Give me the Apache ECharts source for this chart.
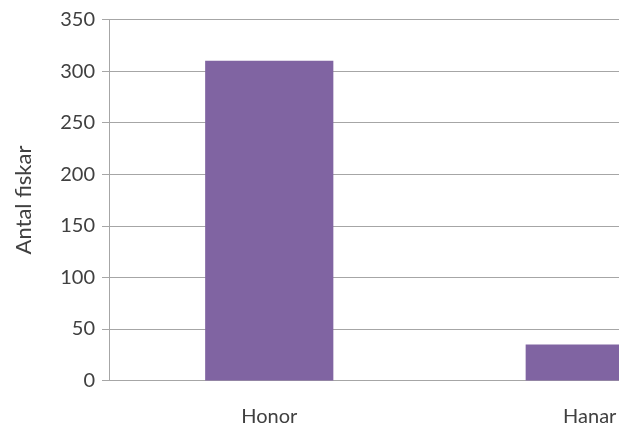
<!DOCTYPE html>
<html>
<head>
<meta charset="utf-8">
<script src="https://cdn.jsdelivr.net/npm/echarts@6/dist/echarts.min.js"></script>
<style>
  html, body { margin: 0; padding: 0; background: #fff; }
  #chart { width: 619px; height: 429px; }
</style>
</head>
<body>
<div id="chart"></div>
<script>
// Fish counts by sex
const categories = ['Honor', 'Hanar'];
const counts = [310, 35];
const yTicks = { min: 0, max: 350, interval: 50 };
const yTitle = 'Antal fiskar';

const chart = echarts.init(document.getElementById('chart'), null, { renderer: 'canvas' });
const font = 'Lato, "Open Sans", sans-serif';

chart.setOption({
  animation: false,
  backgroundColor: '#ffffff',
  // plot area runs past the right edge of the canvas
  grid: {
    left: 109, top: 19.5, bottom: 48.5, right: -131,
    containLabel: false,
    outerBoundsMode: 'none'
  },
  xAxis: {
    type: 'category',
    data: categories,
    axisLine: { lineStyle: { color: '#a6a6a6', width: 1 } },
    axisTick: { show: false },
    axisLabel: { color: '#404040', fontFamily: font, fontSize: 20, margin: 26 }
  },
  yAxis: {
    type: 'value',
    min: yTicks.min,
    max: yTicks.max,
    interval: yTicks.interval,
    name: yTitle,
    nameLocation: 'middle',
    nameGap: 74,
    nameTextStyle: { color: '#404040', fontFamily: font, fontSize: 22 },
    axisLine: { show: true, lineStyle: { color: '#a6a6a6', width: 1 } },
    axisTick: { show: true, length: 7, lineStyle: { color: '#a6a6a6' } },
    axisLabel: { color: '#404040', fontFamily: font, fontSize: 20, margin: 14 },
    splitLine: { lineStyle: { color: '#a6a6a6', width: 1 } }
  },
  series: [{
    type: 'bar',
    data: counts,
    barWidth: '40%',
    itemStyle: { color: '#8064a2' }
  }]
});
</script>
</body>
</html>
